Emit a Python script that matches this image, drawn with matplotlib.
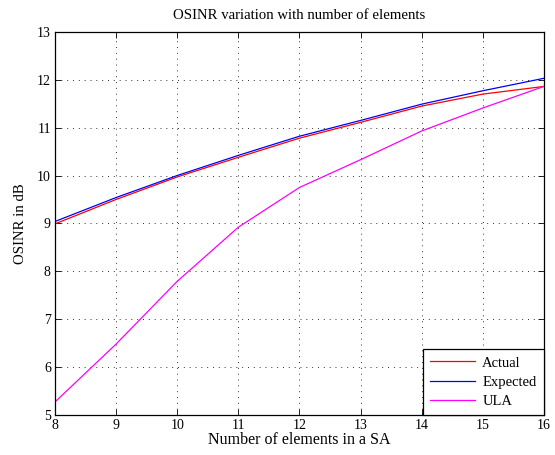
import numpy as np
import matplotlib.pyplot as plt

plt.rcParams['font.family'] = ['Liberation Serif', 'DejaVu Serif']
plt.rcParams['font.size'] = 10

elements = [8, 9, 10, 11, 12, 13, 14, 15, 16]
actual = [8.99, 9.50, 9.97, 10.38, 10.78, 11.11, 11.45, 11.70, 11.86]
expected = [9.04, 9.54, 10.00, 10.42, 10.82, 11.15, 11.49, 11.77, 12.03]
ula = [5.27, 6.48, 7.79, 8.92, 9.75, 10.33, 10.93, 11.41, 11.86]

fig = plt.figure(figsize=(5.55, 4.55), dpi=100)
ax = fig.add_axes([0.099, 0.088, 0.881, 0.842])

ax.plot(elements, actual, color='#ff0000', lw=0.9, label='Actual')
ax.plot(elements, expected, color='#0000ff', lw=0.9, label='Expected')
ax.plot(elements, ula, color='#ff00ff', lw=0.9, label='ULA')

ax.set_xlim(8, 16)
ax.set_ylim(5, 13)
ax.set_xticks(range(8, 17))
ax.set_yticks(range(5, 14))
ax.tick_params(direction='in', top=True, right=True, length=4, width=0.6, pad=3)
ax.grid(True, linestyle=(0, (1, 5)), color='#333333', lw=0.7)
for s in ax.spines.values():
    s.set_linewidth(0.9)

ax.set_xlabel('Number of elements in a SA', fontsize=11.5, labelpad=0)
ax.set_ylabel('OSINR in dB', fontsize=10.6, labelpad=7)
ax.set_title('OSINR variation with number of elements', fontsize=10.6, pad=9)

leg = ax.legend(loc='lower right', fancybox=False, framealpha=1, edgecolor='black',
                borderaxespad=0, handlelength=3.1, handletextpad=0.5, borderpad=0.5,
                labelspacing=0.4, fontsize=10.5)
leg.get_frame().set_linewidth(0.9)

fig.savefig('out.png', dpi=100)
